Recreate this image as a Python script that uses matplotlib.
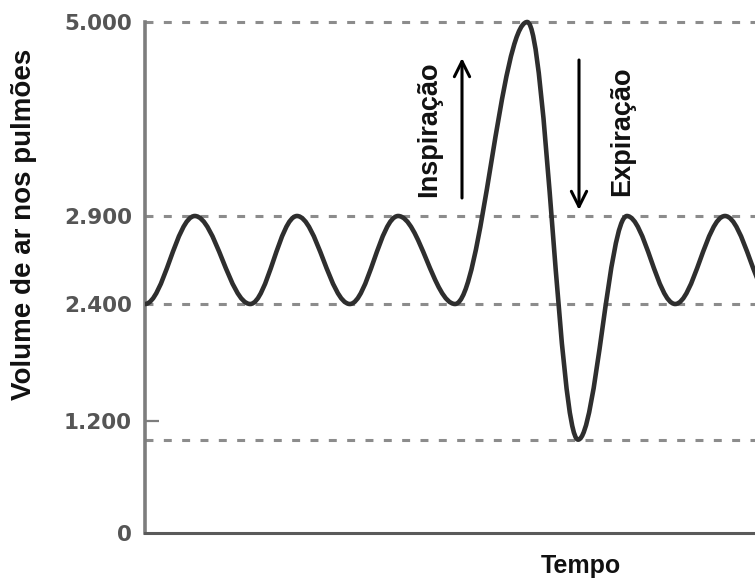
import numpy as np
import matplotlib
matplotlib.use("Agg")
import matplotlib.pyplot as plt
from matplotlib.path import Path
from matplotlib.patches import PathPatch
from matplotlib.ticker import FixedLocator, NullFormatter

# ---- data ----
tempo = [0.0, 0.98, 2.07, 2.99, 4.03, 4.98, 6.10, 7.52, 8.52, 9.48, 10.43, 11.41, 12.4]
volume = [2400, 2900, 2400, 2900, 2400, 2900, 2400, 5000, 1000, 2900, 2400, 2900, 2400]
ytick_values = [0, 1200, 2400, 2900, 5000]
ytick_labels = ["0", "1.200", "2.400", "2.900", "5.000"]
ref_levels = [5000, 2900, 2400, 1000]

# ---- schematic (non-linear) vertical scale of the original drawing ----
scale_vals = np.array([0, 1200, 2400, 2900, 5000], float)
scale_pos = np.array([0, 112, 229, 317, 511], float)


def _piecewise(x, xs, ys):
    x = np.asarray(x, float)
    shp = x.shape
    x = np.atleast_1d(x).ravel()
    out = np.interp(x, xs, ys)
    lo = x < xs[0]
    hi = x > xs[-1]
    out[lo] = ys[0] + (x[lo] - xs[0]) * (ys[1] - ys[0]) / (xs[1] - xs[0])
    out[hi] = ys[-1] + (x[hi] - xs[-1]) * (ys[-1] - ys[-2]) / (xs[-1] - xs[-2])
    return out.reshape(shp)


def fwd(v):
    return _piecewise(v, scale_vals, scale_pos)


def inv(p):
    return _piecewise(p, scale_pos, scale_vals)


W, H = 755, 583
fig = plt.figure(figsize=(W / 100, H / 100), dpi=100)
fig.patch.set_facecolor("white")
ax = fig.add_axes([145 / W, 50 / H, 610 / W, 528 / H])
ax.set_yscale("function", functions=(fwd, inv))
ax.set_xlim(0, 12)
ax.set_ylim(0, float(inv(528)))

# reference dashed lines
for lv in ref_levels:
    ax.axhline(lv, color="#8c8c8c", lw=2.2, linestyle=(0, (2.6, 3.4)), zorder=1)

# smooth breathing curve through the extrema (horizontal tangents)
k = 0.36
verts = [(tempo[0], volume[0])]
codes = [Path.MOVETO]
for i in range(len(tempo) - 1):
    t0, t1 = tempo[i], tempo[i + 1]
    v0, v1 = volume[i], volume[i + 1]
    dt = t1 - t0
    verts += [(t0 + k * dt, v0), (t1 - k * dt, v1), (t1, v1)]
    codes += [Path.CURVE4] * 3
curve = PathPatch(Path(verts, codes), fill=False, edgecolor="#2e2e2e", lw=3.3,
                  capstyle="round", joinstyle="round", zorder=3)
ax.add_patch(curve)

# axes styling
for s in ["top", "right"]:
    ax.spines[s].set_visible(False)
ax.spines["left"].set_bounds(0, 5000)
ax.spines["left"].set_color("#7d7d7d")
ax.spines["left"].set_linewidth(2.6)
ax.spines["bottom"].set_color("#5a5a5a")
ax.spines["bottom"].set_linewidth(2.2)
ax.set_xticks([])
ax.yaxis.remove_overlapping_locs = False
ax.yaxis.set_major_locator(FixedLocator(ytick_values))
ax.set_yticklabels(ytick_labels)
ax.yaxis.set_minor_locator(FixedLocator([1200]))
ax.yaxis.set_minor_formatter(NullFormatter())
ax.tick_params(axis="y", which="major", length=0, pad=9.5,
               labelsize=15.5, labelcolor="#555555")
ax.tick_params(axis="y", which="minor", direction="in", length=10, width=1.6,
               color="#7d7d7d")
for lab in ax.get_yticklabels():
    lab.set_fontweight("bold")
    lab.set_fontfamily("DejaVu Sans")

# axis titles
fig.text(24 / W, 1 - 224 / H, "Volume de ar nos pulmões", rotation=90,
         ha="center", va="center", fontsize=20, fontweight="bold",
         family="Liberation Sans", color="#111111")
fig.text(581 / W, 1 - 566 / H, "Tempo", ha="center", va="center",
         fontsize=18, fontweight="bold", family="Liberation Sans",
         color="#111111")

# annotations
fig.text(429 / W, 1 - 197 / H, "Inspiração", rotation=90, ha="center",
         va="bottom", fontsize=19.5, fontweight="bold",
         family="Liberation Sans", color="#111111")
fig.text(622 / W, 1 - 196 / H, "Expiração", rotation=90, ha="center",
         va="bottom", fontsize=19.5, fontweight="bold",
         family="Liberation Sans", color="#111111")
arrow_kw = dict(arrowstyle="->,head_length=1.1,head_width=0.55", lw=2.2,
                color="black", shrinkA=0, shrinkB=0, mutation_scale=10)
ax.annotate("", xy=(462 / W, 1 - 58 / H), xytext=(462 / W, 1 - 198 / H),
            xycoords="figure fraction", textcoords="figure fraction",
            arrowprops=arrow_kw)
ax.annotate("", xy=(579 / W, 1 - 210 / H), xytext=(579 / W, 1 - 60 / H),
            xycoords="figure fraction", textcoords="figure fraction",
            arrowprops=arrow_kw)

fig.savefig("out.png", dpi=100, facecolor="white")
